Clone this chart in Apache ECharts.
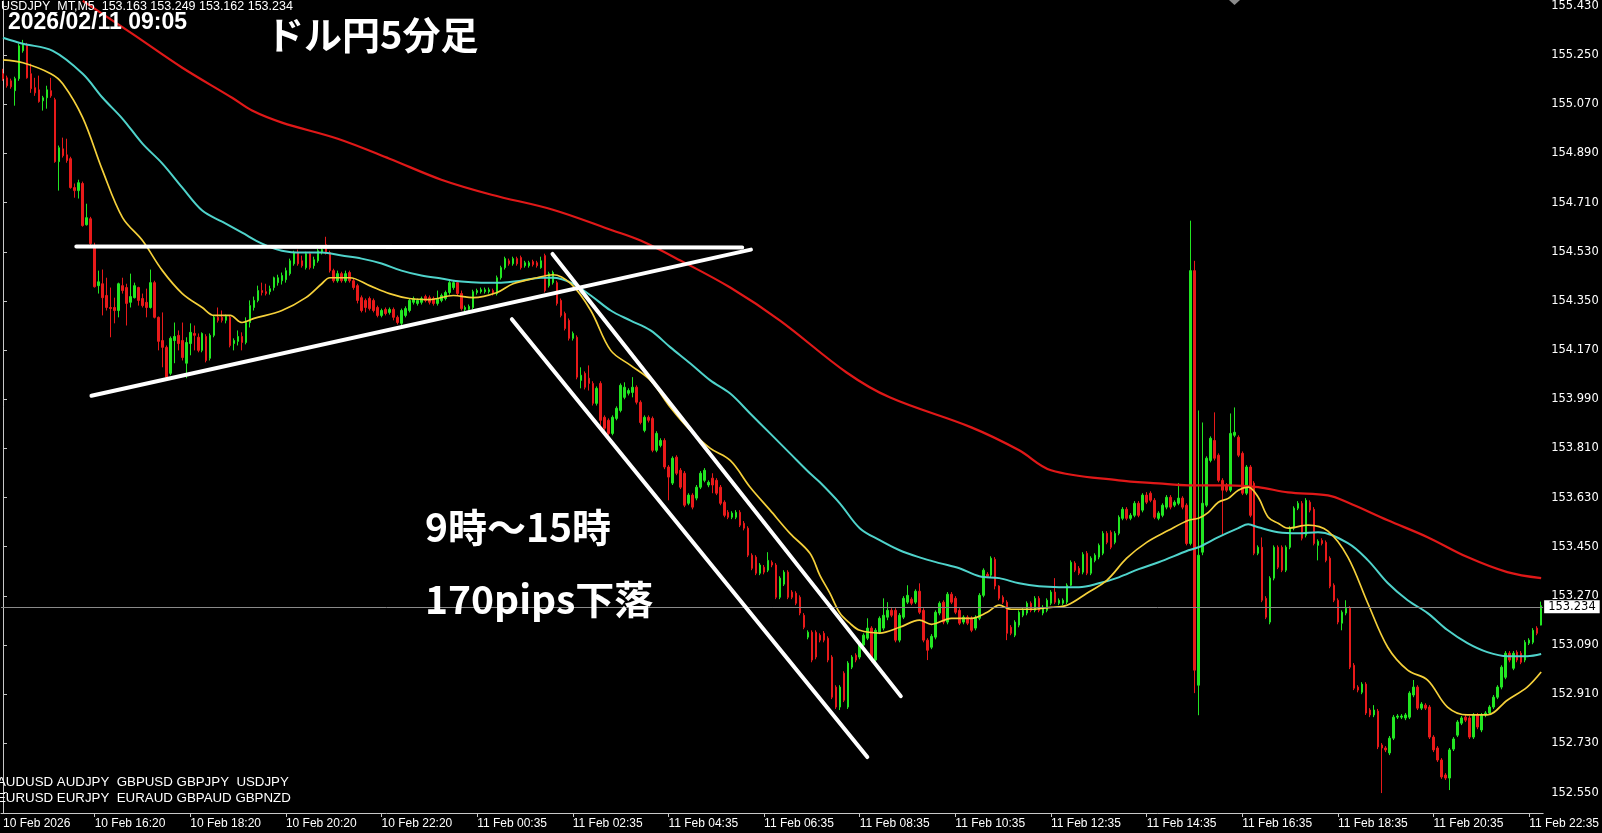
<!DOCTYPE html>
<html>
<head>
<meta charset="utf-8">
<script src="https://cdn.jsdelivr.net/npm/echarts@6/dist/echarts.min.js"></script>
<style>
  html, body { margin: 0; padding: 0; background: #000; }
  #chart { width: 1602px; height: 833px; }
</style>
</head>
<body>
<div id="chart"></div>
<script>
// USDJPY 5-minute candles, 10 Feb 14:25 -> 11 Feb 22:50
const opens = [
155.182,155.167,155.156,155.120,155.164,155.266,155.288,155.182,155.131,155.123,
155.083,155.094,155.120,155.087,154.860,154.907,154.885,154.871,154.765,154.754,
154.780,154.629,154.651,154.545,154.406,154.413,154.370,154.326,154.326,154.315,
154.406,154.399,154.345,154.362,154.399,154.359,154.345,154.326,154.417,154.290,
154.205,154.180,154.085,154.205,154.224,154.205,154.122,154.194,154.231,154.217,
154.169,154.220,154.140,154.224,154.290,154.290,154.279,154.290,154.194,154.202,
154.220,154.198,154.271,154.326,154.352,154.388,154.384,154.384,154.399,154.417,
154.424,154.428,154.450,154.486,154.527,154.497,154.472,154.523,154.479,154.497,
154.527,154.556,154.527,154.461,154.424,154.450,154.424,154.454,154.424,154.406,
154.362,154.352,154.359,154.352,154.326,154.297,154.319,154.308,154.319,154.290,
154.268,154.297,154.315,154.345,154.341,154.345,154.366,154.362,154.359,154.341,
154.352,154.359,154.381,154.399,154.417,154.377,154.319,154.319,154.326,154.381,
154.384,154.384,154.384,154.388,154.377,154.435,154.472,154.497,154.486,154.505,
154.509,154.479,154.479,154.494,154.490,154.472,154.516,154.406,154.417,154.417,
154.352,154.304,154.279,154.213,154.217,154.059,154.085,154.067,154.048,153.975,
154.048,153.924,153.913,153.865,153.920,153.949,153.997,154.012,154.015,154.034,
153.979,153.876,153.924,153.920,153.803,153.821,153.839,153.742,153.683,153.778,
153.730,153.719,153.609,153.639,153.628,153.668,153.693,153.676,153.701,153.693,
153.668,153.613,153.576,153.558,153.558,153.576,153.536,153.518,153.419,153.412,
153.353,153.375,153.364,153.393,153.383,153.265,153.313,153.357,153.284,153.280,
153.265,153.199,153.119,153.137,153.137,153.126,153.133,153.115,153.046,152.936,
152.863,152.987,152.863,153.009,153.053,153.046,153.090,153.115,153.152,153.035,
153.137,153.152,153.192,153.217,153.217,153.108,153.192,153.247,153.258,153.247,
153.287,153.217,153.108,153.082,153.119,153.207,153.247,153.174,153.276,153.261,
153.217,153.174,153.192,153.188,153.152,153.188,153.272,153.349,153.346,153.404,
153.306,153.265,153.247,153.155,153.126,153.163,153.199,153.207,153.243,153.217,
153.261,153.207,153.217,153.243,153.284,153.243,153.243,153.247,153.309,153.390,
153.371,153.357,153.426,153.353,153.400,153.412,153.426,153.499,153.503,153.466,
153.499,153.554,153.587,153.554,153.565,153.609,153.584,153.639,153.646,153.620,
153.554,153.565,153.595,153.631,153.602,153.609,153.628,153.602,153.462,154.461,
152.943,153.430,153.602,153.766,153.839,153.785,153.693,153.676,153.657,153.858,
153.851,153.792,153.646,153.742,153.683,153.426,153.448,153.261,153.174,153.335,
153.448,153.448,153.364,153.448,153.518,153.591,153.609,153.492,153.613,153.587,
153.455,153.473,153.466,153.408,153.309,153.254,153.170,153.207,153.225,153.016,
152.936,152.917,152.947,152.852,152.834,152.848,152.724,152.713,152.695,152.749,
152.826,152.826,152.823,152.826,152.907,152.936,152.859,152.870,152.863,152.753,
152.713,152.669,152.614,152.603,152.709,152.760,152.804,152.826,152.823,152.753,
152.834,152.779,152.834,152.841,152.863,152.899,152.936,152.972,153.060,153.005,
153.064,153.060,153.035,153.097,153.100,153.152,153.163
];
const highs = [
155.200,155.175,155.164,155.171,155.292,155.306,155.295,155.219,155.167,155.175,
155.101,155.138,155.167,155.094,154.919,154.948,154.944,154.878,154.780,154.794,
154.787,154.706,154.658,154.563,154.461,154.465,154.435,154.399,154.362,154.417,
154.435,154.413,154.450,154.417,154.402,154.377,154.395,154.465,154.424,154.293,
154.308,154.187,154.220,154.271,154.242,154.271,154.217,154.268,154.260,154.231,
154.235,154.228,154.231,154.297,154.326,154.315,154.300,154.297,154.213,154.242,
154.235,154.290,154.352,154.366,154.406,154.417,154.413,154.406,154.439,154.446,
154.454,154.472,154.505,154.534,154.538,154.516,154.530,154.530,154.512,154.541,
154.549,154.585,154.534,154.468,154.461,154.457,154.461,154.461,154.432,154.413,
154.370,154.359,154.366,154.359,154.333,154.322,154.326,154.326,154.326,154.297,
154.322,154.330,154.359,154.366,154.359,154.366,154.373,154.370,154.366,154.388,
154.377,154.388,154.424,154.424,154.424,154.388,154.333,154.337,154.391,154.395,
154.399,154.399,154.399,154.395,154.443,154.479,154.512,154.505,154.512,154.512,
154.516,154.497,154.497,154.501,154.497,154.512,154.523,154.457,154.461,154.424,
154.359,154.311,154.286,154.238,154.224,154.107,154.092,154.114,154.056,154.037,
154.056,153.931,153.920,153.931,153.964,154.048,154.052,154.030,154.071,154.041,
153.986,153.931,153.931,153.927,153.873,153.847,153.847,153.749,153.781,153.785,
153.738,153.727,153.646,153.646,153.676,153.727,153.738,153.693,153.719,153.701,
153.676,153.620,153.584,153.580,153.584,153.584,153.544,153.525,153.426,153.419,
153.390,153.383,153.430,153.400,153.390,153.342,153.364,153.364,153.291,153.287,
153.272,153.207,153.144,153.144,153.144,153.133,153.141,153.122,153.053,152.943,
152.943,152.994,153.031,153.053,153.060,153.097,153.133,153.188,153.159,153.152,
153.195,153.261,153.247,153.225,153.225,153.207,153.269,153.309,153.265,153.294,
153.316,153.225,153.115,153.130,153.217,153.250,153.254,153.284,153.284,153.269,
153.225,153.199,153.199,153.195,153.199,153.280,153.371,153.357,153.415,153.412,
153.309,153.272,153.254,153.163,153.181,153.217,153.225,153.250,153.250,153.269,
153.269,153.236,153.261,153.291,153.335,153.261,153.261,153.316,153.400,153.397,
153.379,153.430,153.434,153.415,153.426,153.462,153.507,153.507,153.510,153.507,
153.565,153.595,153.595,153.573,153.617,153.617,153.646,153.650,153.653,153.628,
153.580,153.609,153.639,153.639,153.620,153.683,153.635,153.609,154.644,154.497,
153.949,153.905,153.781,153.854,153.942,153.792,153.701,153.683,153.938,153.960,
153.858,153.799,153.749,153.749,153.690,153.455,153.484,153.269,153.342,153.455,
153.455,153.455,153.455,153.525,153.598,153.617,153.617,153.628,153.620,153.595,
153.477,153.481,153.473,153.415,153.316,153.261,153.217,153.254,153.232,153.024,
152.943,152.954,152.954,152.859,152.870,152.856,152.731,152.720,152.757,152.834,
152.837,152.837,152.841,152.921,152.962,152.943,152.881,152.877,152.870,152.760,
152.720,152.676,152.621,152.713,152.753,152.815,152.830,152.834,152.830,152.841,
152.841,152.841,152.848,152.870,152.907,152.943,153.016,153.068,153.068,153.068,
153.071,153.068,153.108,153.115,153.152,153.159,153.249
];
const lows = [
155.156,155.131,155.127,155.065,155.156,155.259,155.164,155.112,155.101,155.076,
155.047,155.054,155.094,154.856,154.754,154.875,154.856,154.761,154.728,154.725,
154.622,154.626,154.553,154.399,154.377,154.297,154.315,154.217,154.268,154.290,
154.377,154.260,154.326,154.359,154.333,154.326,154.290,154.322,154.286,154.169,
154.107,154.067,154.078,154.122,154.169,154.132,154.067,154.151,154.169,154.162,
154.162,154.125,154.132,154.217,154.271,154.271,154.268,154.180,154.169,154.187,
154.169,154.191,154.253,154.315,154.345,154.370,154.370,154.373,154.388,154.406,
154.410,154.417,154.443,154.479,154.479,154.472,154.465,154.465,154.468,154.490,
154.520,154.520,154.454,154.417,154.417,154.417,154.417,154.417,154.391,154.341,
154.308,154.308,154.315,154.308,154.290,154.290,154.297,154.300,154.279,154.264,
154.260,154.290,154.308,154.337,154.333,154.337,154.345,154.337,154.333,154.333,
154.345,154.352,154.373,154.391,154.370,154.315,154.311,154.311,154.319,154.373,
154.377,154.377,154.377,154.370,154.370,154.428,154.465,154.479,154.479,154.479,
154.465,154.472,154.472,154.476,154.472,154.468,154.381,154.399,154.410,154.333,
154.290,154.242,154.205,154.205,154.063,154.030,154.026,154.022,153.967,153.967,
153.895,153.876,153.858,153.858,153.913,153.942,153.990,154.004,153.997,153.971,
153.898,153.869,153.905,153.796,153.796,153.814,153.734,153.620,153.676,153.712,
153.661,153.595,153.602,153.587,153.620,153.661,153.686,153.668,153.646,153.639,
153.602,153.558,153.551,153.551,153.551,153.522,153.510,153.412,153.364,153.346,
153.346,153.349,153.357,153.375,153.258,153.258,153.306,153.258,153.258,153.236,
153.199,153.148,153.111,153.027,153.038,153.100,153.100,153.027,152.892,152.856,
152.852,152.881,152.856,153.002,153.027,153.038,153.082,153.108,153.027,153.027,
153.130,153.144,153.181,153.192,153.100,153.100,153.185,153.240,153.236,153.240,
153.203,153.100,153.035,153.075,153.111,153.199,153.166,153.166,153.240,153.203,
153.163,153.166,153.163,153.137,153.144,153.181,153.265,153.335,153.338,153.294,
153.254,153.240,153.108,153.126,153.119,153.155,153.192,153.199,153.210,153.210,
153.210,153.199,153.210,153.236,153.240,153.236,153.236,153.240,153.306,153.357,
153.346,153.349,153.346,153.346,153.393,153.404,153.419,153.459,153.441,153.459,
153.492,153.547,153.547,153.547,153.558,153.558,153.576,153.606,153.613,153.551,
153.547,153.558,153.587,153.587,153.595,153.602,153.587,153.455,153.455,152.914,
152.833,153.419,153.595,153.759,153.766,153.686,153.492,153.650,153.650,153.851,
153.778,153.639,153.639,153.558,153.419,153.419,153.247,153.185,153.166,153.327,
153.368,153.357,153.357,153.441,153.510,153.584,153.473,153.484,153.576,153.455,
153.400,153.455,153.393,153.298,153.247,153.166,153.144,153.199,153.002,152.925,
152.917,152.910,152.834,152.826,152.826,152.709,152.548,152.698,152.687,152.742,
152.819,152.819,152.815,152.819,152.899,152.852,152.852,152.852,152.746,152.698,
152.662,152.600,152.596,152.559,152.702,152.753,152.797,152.808,152.746,152.746,
152.782,152.771,152.826,152.834,152.856,152.892,152.928,152.965,153.027,152.998,
153.027,153.020,153.027,153.090,153.093,153.126,153.162
];
const closes = [
155.164,155.138,155.134,155.164,155.284,155.292,155.167,155.127,155.112,155.080,
155.094,155.123,155.101,154.860,154.911,154.882,154.864,154.765,154.754,154.783,
154.626,154.655,154.560,154.402,154.420,154.362,154.326,154.322,154.315,154.413,
154.388,154.341,154.366,154.406,154.352,154.333,154.326,154.417,154.290,154.202,
154.180,154.071,154.213,154.220,154.194,154.143,154.198,154.235,154.224,154.169,
154.231,154.132,154.224,154.290,154.279,154.279,154.293,154.187,154.205,154.220,
154.198,154.271,154.333,154.352,154.388,154.381,154.377,154.395,154.435,154.435,
154.443,154.461,154.497,154.527,154.486,154.479,154.523,154.472,154.501,154.534,
154.538,154.527,154.461,154.424,154.450,154.424,154.450,154.424,154.399,154.352,
154.315,154.326,154.322,154.315,154.297,154.315,154.304,154.319,154.290,154.271,
154.315,154.322,154.352,154.359,154.352,154.359,154.352,154.345,154.341,154.359,
154.370,154.381,154.417,154.417,154.377,154.322,154.326,154.330,154.384,154.388,
154.391,154.391,154.391,154.377,154.435,154.472,154.505,154.486,154.505,154.486,
154.472,154.490,154.490,154.483,154.479,154.497,154.388,154.450,154.454,154.341,
154.297,154.249,154.213,154.231,154.071,154.078,154.034,154.048,153.975,154.030,
153.913,153.884,153.865,153.924,153.957,154.041,154.034,154.022,154.034,153.979,
153.905,153.924,153.913,153.803,153.865,153.839,153.742,153.705,153.774,153.719,
153.668,153.602,153.639,153.595,153.668,153.719,153.730,153.686,153.676,153.646,
153.609,153.565,153.558,153.573,153.576,153.529,153.518,153.419,153.371,153.353,
153.383,153.357,153.400,153.383,153.265,153.335,153.357,153.265,153.265,153.243,
153.207,153.155,153.137,153.035,153.046,153.108,153.108,153.035,152.899,152.863,
152.936,152.888,153.024,153.046,153.035,153.090,153.126,153.152,153.035,153.144,
153.188,153.199,153.217,153.199,153.108,153.199,153.261,153.272,153.243,153.287,
153.210,153.108,153.071,153.122,153.210,153.243,153.174,153.276,153.247,153.210,
153.170,153.192,153.170,153.144,153.192,153.272,153.364,153.342,153.408,153.306,
153.261,153.247,153.133,153.133,153.174,153.210,153.217,153.243,153.217,153.261,
153.217,153.228,153.254,153.284,153.247,153.254,153.254,153.309,153.393,153.364,
153.353,153.422,153.353,153.408,153.419,153.455,153.499,153.466,153.448,153.499,
153.558,153.587,153.554,153.565,153.609,153.565,153.639,153.613,153.620,153.558,
153.573,153.602,153.631,153.595,153.613,153.628,153.595,153.462,154.461,152.998,
153.419,153.609,153.774,153.847,153.774,153.693,153.657,153.657,153.865,153.869,
153.785,153.646,153.742,153.565,153.426,153.448,153.254,153.192,153.335,153.448,
153.375,153.364,153.448,153.518,153.591,153.609,153.481,153.620,153.584,153.462,
153.470,153.462,153.400,153.305,153.254,153.174,153.210,153.225,153.009,152.932,
152.925,152.947,152.841,152.834,152.852,152.717,152.713,152.706,152.749,152.826,
152.830,152.830,152.834,152.914,152.936,152.859,152.874,152.859,152.753,152.706,
152.669,152.607,152.603,152.706,152.746,152.808,152.823,152.815,152.753,152.834,
152.790,152.834,152.841,152.863,152.899,152.936,153.009,153.060,153.035,153.060,
153.035,153.027,153.100,153.108,153.144,153.133,153.234
];

// moving averages sampled along the bars: [bar index, price]
const maFast = [
[0,155.233],[5,155.222],[12,155.182],[15,155.145],[20,155.021],[25,154.827],[30,154.655],[35,154.571],
[40,154.461],[45,154.377],[50,154.326],[53,154.297],[57,154.297],[60,154.271],[63,154.286],[70,154.315],
[76,154.362],[80,154.413],[82,154.435],[87,154.435],[92,154.406],[97,154.377],[102,154.359],[107,154.355],
[113,154.370],[118,154.362],[124,154.381],[128,154.413],[134,154.435],[138,154.446],[142.5,154.413],
[147.5,154.315],[152.5,154.169],[157.5,154.114],[162.5,154.059],[167.5,153.960],[172.5,153.876],
[177.5,153.810],[182.5,153.766],[187.5,153.668],[192.5,153.584],[197.5,153.499],[202.5,153.426],
[205,153.345],[207.5,153.280],[210,153.207],[212.5,153.170],[215,153.144],[220,153.134],[225,153.155],
[230,153.181],[233,153.166],[238,153.188],[243,153.188],[247,153.210],[250,153.236],[253,153.221],
[258,153.221],[263,153.228],[267,153.236],[272,153.280],[277,153.327],[282,153.408],[287,153.466],
[292.5,153.510],[297.5,153.547],[300,153.554],[302.5,153.576],[305,153.613],[307.5,153.627],[310,153.657],
[312.5,153.668],[315,153.631],[317.5,153.558],[320,153.536],[322.5,153.518],[327.5,153.529],[332.5,153.507],
[337.5,153.412],[342.5,153.243],[347.5,153.082],[352.5,152.998],[357.5,152.962],[362.5,152.863],
[367.5,152.834],[372.5,152.834],[377.5,152.888],[382.5,152.936],[386,152.991]
];
const maMid = [
[0,155.314],[5,155.292],[12.5,155.266],[20,155.182],[25,155.094],[30,155.017],[35,154.926],[40,154.853],
[45,154.765],[50,154.681],[55,154.640],[60,154.600],[65,154.560],[70,154.534],[75,154.527],[80,154.527],
[85,154.516],[90,154.505],[95,154.487],[100,154.461],[105,154.443],[110,154.432],[115,154.421],[120,154.417],
[125,154.417],[130,154.424],[135,154.435],[138,154.435],[142.5,154.417],[147.5,154.370],[152.5,154.315],
[157.5,154.278],[162.5,154.242],[167.5,154.180],[172.5,154.121],[177.5,154.059],[182.5,154.011],
[187.5,153.938],[192.5,153.865],[197.5,153.792],[202.5,153.719],[205,153.686],[210,153.609],[215,153.518],
[220,153.474],[225,153.437],[230,153.411],[235,153.390],[240,153.371],[245,153.342],[250,153.335],
[255,153.316],[260,153.305],[265,153.302],[270,153.302],[275,153.316],[280,153.338],[285,153.368],
[290,153.393],[297.5,153.437],[300,153.448],[305,153.485],[310,153.518],[312.5,153.532],[315,153.521],
[320,153.503],[325,153.499],[330,153.503],[337.5,153.463],[342.5,153.401],[347.5,153.317],[352.5,153.254],
[357.5,153.207],[362.5,153.145],[367.5,153.097],[372.5,153.064],[377.5,153.049],[382.5,153.049],[386,153.057]
];
const maSlow = [
[20,155.449],[32.5,155.328],[45,155.204],[57.5,155.094],[62.5,155.047],[70,155.003],[84,154.944],
[97,154.871],[110,154.794],[122.6,154.739],[138,154.684],[153,154.608],[160,154.571],[170,154.498],
[182.5,154.399],[195,154.278],[211.7,154.088],[222.5,153.997],[243,153.887],[255,153.803],[263,153.730],
[280,153.693],[290,153.682],[297.5,153.675],[307.5,153.675],[315,153.668],[322.5,153.649],[332.5,153.638],
[337.5,153.612],[347.5,153.547],[357.5,153.485],[367.5,153.412],[377.5,153.357],[386,153.335]
];

// hand-drawn trend lines: [[bar, price], [bar, price]]
const trendLines = [
  [[18.4,154.549],[185.5,154.546]],   // triangle top
  [[22.2,154.003],[187.7,154.538]],   // triangle rising base
  [[137.9,154.522],[225.3,152.903]],  // falling channel, upper edge
  [[127.7,154.283],[216.9,152.680]]   // falling channel, lower edge
];

// axis labels
const priceTicks = [152.55,152.73,152.91,153.09,153.27,153.45,153.63,153.81,153.99,154.17,154.35,154.53,154.71,154.89,155.07,155.25,155.43];
const timeTickIndex = [0,23,47,71,95,119,143,167,191,215,239,263,287,311,335,359,383];
const timeTickText = ['10 Feb 2026','10 Feb 16:20','10 Feb 18:20','10 Feb 20:20','10 Feb 22:20','11 Feb 00:35',
  '11 Feb 02:35','11 Feb 04:35','11 Feb 06:35','11 Feb 08:35','11 Feb 10:35','11 Feb 12:35','11 Feb 14:35',
  '11 Feb 16:35','11 Feb 18:35','11 Feb 20:35','11 Feb 22:35'];

const N = opens.length;
const last = N - 1;
const cats = Array.from({ length: N }, (_, i) => String(i));
const candles = opens.map((o, i) => [o, closes[i], lows[i], highs[i]]);
const labelAt = {};
timeTickIndex.forEach((idx, k) => { labelAt[idx] = timeTickText[k]; });

const BULL = '#22E622';
const BEAR = '#E81A1A';
const AXIS = '#C8C8C8';

const lineSeries = (data, color, width, z) => ({
  type: 'line', xAxisIndex: 1, yAxisIndex: 0, data,
  smooth: 0.35, showSymbol: false, symbol: 'none', silent: true, z,
  lineStyle: { color, width }, clip: true
});

const chart = echarts.init(document.getElementById('chart'), null, { renderer: 'canvas' });
chart.setOption({
  animation: false,
  backgroundColor: '#000',
  grid: { left: -1.5, right: 55.5, top: 0, bottom: 20, containLabel: false },
  xAxis: [
    {
      type: 'category', data: cats, boundaryGap: true, position: 'bottom',
      axisLine: { show: true, lineStyle: { color: AXIS, width: 1 } },
      axisTick: { show: true, alignWithLabel: true, length: 4, lineStyle: { color: AXIS },
        interval: (i) => i !== 0 && labelAt[i] !== undefined },
      axisLabel: { show: true, interval: (i) => labelAt[i] !== undefined,
        formatter: (v, i) => labelAt[i] || '', align: 'left', margin: 5,
        color: '#FFFFFF', fontSize: 12, fontFamily: 'Liberation Sans', hideOverlap: false },
      splitLine: { show: false }
    },
    { type: 'value', min: -0.5, max: N - 0.5, show: false, gridIndex: 0 }
  ],
  yAxis: [{
    type: 'value', position: 'right', min: 152.475, max: 155.4487, scale: true,
    axisLine: { show: true, lineStyle: { color: AXIS, width: 1 } },
    axisTick: { show: true, length: 4, lineStyle: { color: AXIS }, customValues: priceTicks },
    axisLabel: { show: true, customValues: priceTicks, formatter: (v) => v.toFixed(3),
      color: '#FFFFFF', fontSize: 11.5, fontFamily: 'DejaVu Sans', margin: 8 },
    splitLine: { show: false }
  }],
  series: [
    {
      type: 'candlestick', name: 'USDJPY', data: candles, xAxisIndex: 0, yAxisIndex: 0,
      barWidth: 2, z: 2,
      itemStyle: { color: BULL, color0: BEAR, borderColor: BULL, borderColor0: BEAR,
        borderColorDoji: BULL, borderWidth: 1 },
      markLine: {
        silent: true, symbol: 'none', animation: false,
        lineStyle: { color: '#8A8A8A', width: 1, type: 'solid' },
        label: { show: true, position: 'end', distance: 1, formatter: closes[last].toFixed(3),
          backgroundColor: '#FFFFFF', color: '#000000', padding: [1, 4, 0, 4],
          fontSize: 11.5, fontFamily: 'DejaVu Sans' },
        data: [{ yAxis: closes[last] }]
      }
    },
    lineSeries(maSlow, '#E01818', 2.2, 3),
    lineSeries(maMid, '#4FD3CB', 2, 3),
    lineSeries(maFast, '#F5D03A', 1.7, 4),
    ...trendLines.map((seg) => ({
      type: 'line', xAxisIndex: 1, yAxisIndex: 0, data: seg, showSymbol: false, symbol: 'none',
      silent: true, z: 6, lineStyle: { color: '#FFFFFF', width: 4, cap: 'round' }
    }))
  ],
  graphic: [
    { type: 'text', z: 10, silent: true,
      style: { x: 1, y: 7, verticalAlign: 'middle',
        text: `USDJPY_MT,M5  ${opens[last].toFixed(3)} ${highs[last].toFixed(3)} ${lows[last].toFixed(3)} ${closes[last].toFixed(3)}`,
        fill: '#FFFFFF', font: '12.5px "Liberation Sans"' } },
    { type: 'text', z: 10, silent: true,
      style: { x: 8, y: 23, verticalAlign: 'middle', text: '2026/02/11 09:05', fill: '#FFFFFF',
        font: 'bold 23px "Liberation Sans"' } },
    { type: 'text', z: 10, silent: true,
      style: { x: 266, y: 35, verticalAlign: 'middle', text: 'ドル円5分足', fill: '#FFFFFF',
        font: 'bold 38px "Noto Sans CJK JP"' } },
    { type: 'text', z: 10, silent: true,
      style: { x: 425, y: 527, verticalAlign: 'middle', text: '9時～15時', fill: '#FFFFFF',
        font: 'bold 39px "Noto Sans CJK JP"' } },
    { type: 'text', z: 10, silent: true,
      style: { x: 425, y: 599, verticalAlign: 'middle', text: '170pips下落', fill: '#FFFFFF',
        font: 'bold 39px "Noto Sans CJK JP"' } },
    { type: 'text', z: 10, silent: true,
      style: { x: -3, y: 782, verticalAlign: 'middle', text: 'AUDUSD AUDJPY  GBPUSD GBPJPY  USDJPY',
        fill: '#FFFFFF', font: '13.3px "Liberation Sans"' } },
    { type: 'text', z: 10, silent: true,
      style: { x: -3, y: 798, verticalAlign: 'middle', text: 'EURUSD EURJPY  EURAUD GBPAUD GBPNZD',
        fill: '#FFFFFF', font: '13.3px "Liberation Sans"' } },
    { type: 'polygon', z: 10, silent: true,
      shape: { points: [[1229, 0], [1240, 0], [1234.5, 5]] }, style: { fill: '#8C8C8C' } }
  ]
});
</script>
</body>
</html>
